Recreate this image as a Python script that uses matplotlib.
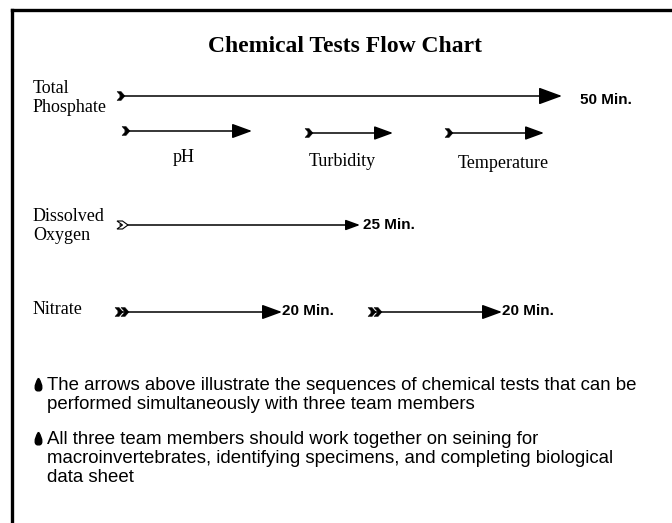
import matplotlib
matplotlib.use("Agg")
import matplotlib.pyplot as plt
from matplotlib.patches import Polygon, FancyArrowPatch
from matplotlib.path import Path

# ---- data ----
title = "Chemical Tests Flow Chart"
row_labels = ["Total\nPhosphate", "Dissolved\nOxygen", "Nitrate"]
row_label_y = [98, 226, 309]
step_labels = ["pH", "Turbidity", "Temperature"]
step_label_x = [184, 342, 503]
step_label_y = [158, 161, 163]
arrow_start = [117, 122, 305, 445, 117, 115, 368]
arrow_end = [562, 252, 393, 544, 360, 282, 502]
arrow_y = [96, 131, 133, 133, 225, 312, 312]
arrow_tail = ["chev", "chev", "chev", "chev", "open", "double", "double"]
arrow_head = [1.0, 0.85, 0.8, 0.8, 0.6, 0.85, 0.85]
time_labels = ["50 Min.", "25 Min.", "20 Min.", "20 Min."]
time_x = [580, 363, 282, 502]
time_y = [100, 225, 311, 311]
bullets = [
    "The arrows above illustrate the sequences of chemical tests that can be\nperformed simultaneously with three team members",
    "All three team members should work together on seining for\nmacroinvertebrates, identifying specimens, and completing biological\ndata sheet",
]
bullet_y = [384, 438]

W, H = 672, 523
fig = plt.figure(figsize=(W / 100, H / 100), dpi=100)
ax = fig.add_axes([0, 0, 1, 1])
ax.set_xlim(0, W)
ax.set_ylim(H, 0)
ax.axis("off")

# border
ax.plot([12, W], [10, 10], color="black", lw=2.4, solid_capstyle="projecting")
ax.plot([12, 12], [10, H], color="black", lw=2.4, solid_capstyle="projecting")

serif = "Liberation Serif"
sans = "Liberation Sans"

ax.text(345, 46, title, fontsize=17, fontweight="bold", family=serif,
        ha="center", va="center")

for lab, y in zip(row_labels, row_label_y):
    ax.text(33, y, lab, fontsize=13, family=serif, ha="left", va="center",
            linespacing=1.15)

for lab, x, y in zip(step_labels, step_label_x, step_label_y):
    ax.text(x, y, lab, fontsize=13, family=serif, ha="center", va="center")


def chevron(x, y, w=7, h=8, filled=True):
    verts = [(x, y - h / 2), (x + w * 0.5, y - h / 2), (x + w, y),
             (x + w * 0.5, y + h / 2), (x, y + h / 2), (x + w * 0.5, y),
             (x, y - h / 2)]
    p = Polygon(verts, closed=True, facecolor="black" if filled else "white",
                edgecolor="black", lw=0.8 if not filled else 0.3, zorder=3)
    ax.add_patch(p)


for xs, xe, y, tail, hs in zip(arrow_start, arrow_end, arrow_y, arrow_tail, arrow_head):
    a = FancyArrowPatch((xs + 3, y), (xe, y),
                        arrowstyle=f"-|>,head_length={0.9*hs},head_width={0.33*hs}",
                        mutation_scale=16, color="black", lw=1.1,
                        shrinkA=0, shrinkB=0, zorder=2)
    ax.add_patch(a)
    if tail == "chev":
        chevron(xs, y, 8, 9)
    elif tail == "open":
        chevron(xs, y, 11, 8, filled=False)
    else:
        chevron(xs, y, 8, 9)
        chevron(xs + 6, y, 8, 9)

for lab, x, y in zip(time_labels, time_x, time_y):
    ax.text(x, y, lab, fontsize=11, family=sans, fontweight="bold",
            ha="left", va="center")

# bullet drop marker
drop = Path([(0, 1.0), (0.7, -0.1), (0.7, -1.1), (0, -1.0), (-0.7, -1.1), (-0.7, -0.1), (0, 1.0)],
            [Path.MOVETO, Path.CURVE4, Path.CURVE4, Path.CURVE4, Path.CURVE4, Path.CURVE4, Path.CURVE4])

for txt, y in zip(bullets, bullet_y):
    ax.plot([38], [y], marker=drop, markersize=10, color="black")
    ax.text(47, y - 7, txt, fontsize=13.4, family=sans, ha="left", va="top",
            linespacing=1.16)

fig.savefig("out.png", dpi=100)
